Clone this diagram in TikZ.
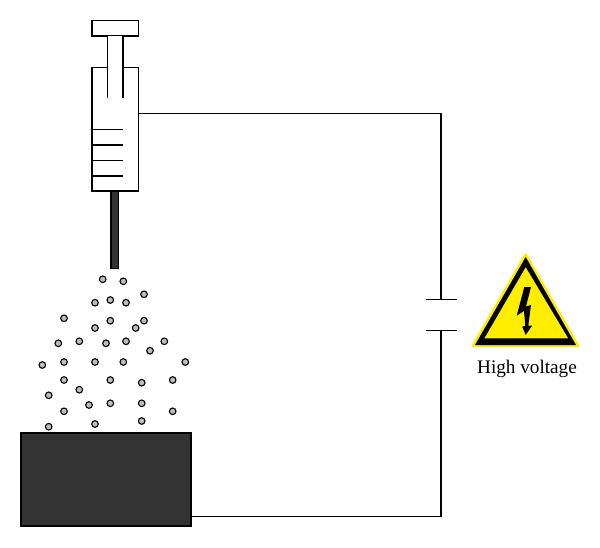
\documentclass[tikz,border=0pt]{standalone}
\usepackage{fontspec}
\setmainfont{Liberation Serif}
\usetikzlibrary{positioning}

\definecolor{darkfill}{HTML}{333333}
\definecolor{signyellow}{HTML}{FFEE00}
\definecolor{dotgray}{HTML}{BDBDBD}
\tikzset{
    part/.style={draw=black,line width=1.2pt,inner sep=0pt},
    wire/.style={draw=black,line width=1.2pt},
    droplet/.style={circle,draw=black,fill=dotgray,line width=1.1pt,minimum size=6.6pt,inner sep=0pt}
}

\begin{document}
\begin{tikzpicture}[x=1pt,y=-1pt]
                \useasboundingbox (0,0) rectangle (600,547);
                % syringe
                \node[part,fill=white,minimum width=46.7pt,minimum height=123.7pt] (barrel) at (115.35,129.15) {};
                \node[part,fill=white,minimum width=46.7pt,minimum height=15.3pt] (handle) at (115.35,28.35) {};
                \node[part,fill=darkfill,minimum width=7.7pt,minimum height=77.7pt] (needle) at (114.85,229.85) {};
                \fill[white] (108.2,36.4) rectangle (122.5,67.9);
                \draw[wire] (107.7,35.6) -- (107.7,98.3);
                \draw[wire] (123,35.6) -- (123,98.3);
                \foreach \tick in {129.5,145,160.5,176}
                    \draw[wire] (92,\tick) -- (123,\tick);
                % droplets
                \foreach \px/\py [count=\i] in {102.7/279.3,123.3/281.3,144/294.3,95/302.7,110.3/300,126/302.7,
                    64/318.3,110.3/320.7,144/320.7,95/328,135.7/328,58.3/343.3,79.3/341.3,106/343.3,126/341.3,
                    164.3/341.3,150/350.7,42.3/365,64/362,95/362,123.3/362,185.3/362,64/380,110.3/380,141.7/382.7,
                    172.7/380,79.3/389.7,48.7/395.3,89/405,110.3/403.3,141.7/403.3,64/411.3,172.7/411.3,
                    48.7/426.7,95/424,141.7/421}
                    \node[droplet] (drop\i) at (\px,\py) {};
                % collector
                \node[part,fill=darkfill,minimum width=170pt,minimum height=93pt] (collector) at (106,479.5) {};
                % circuit
                \coordinate (wirestart) at (138.7,113.5);
                \coordinate (wireend) at (191,516.5);
                \coordinate (plateup) at (441,299.5);
                \coordinate (platedown) at (441,330.5);
                \draw[wire] (wirestart) -- (plateup |- wirestart) -- (plateup);
                \draw[wire] (platedown) -- (platedown |- wireend) -- (wireend);
                \draw[wire] (426,299.5) -- (457,299.5);
                \draw[wire] (426,330.5) -- (457,330.5);
                % warning sign
                \fill[signyellow,draw=signyellow,line width=2pt,line join=round] (525.7,254) -- (578.5,346) -- (472.5,346) -- cycle;
                \fill[black,even odd rule] (525.7,257) -- (576,345) -- (475,345) -- cycle
                    (525.7,267) -- (568.3,338.3) -- (484.3,338.3) -- cycle;
                \fill[black] (524.3,287) -- (531,287) -- (526,306.5) -- (531,305) -- (528.3,325.7) -- (532,325.7) -- (525.7,335) -- (522.3,326.7) -- (525.3,325.7) -- (524,311) -- (516.7,315.7) -- cycle;
                \node[font=\fontsize{19.2}{21}\selectfont] (hvlabel) at (527,369) {High voltage};
            \end{tikzpicture}
\end{document}
